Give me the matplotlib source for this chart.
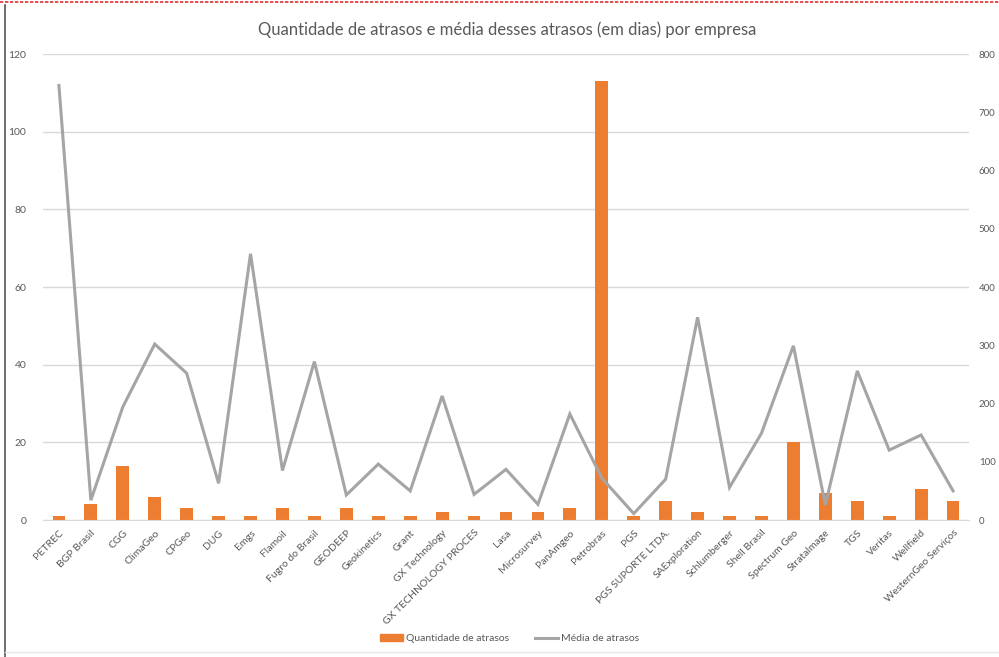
import matplotlib
matplotlib.use("Agg")
import matplotlib.pyplot as plt
from matplotlib.lines import Line2D
from matplotlib.patches import Patch
import numpy as np

plt.rcParams['font.family'] = ['Lato', 'DejaVu Sans']

empresas = ["PETREC", "BGP Brasil", "CGG", "ClimaGeo", "CPGeo", "DUG", "Emgs", "Flamoil",
            "Fugro do Brasil", "GEODEEP", "Geokinetics", "Grant", "GX Technology",
            "GX TECHNOLOGY PROCES", "Lasa", "Microsurvey", "PanAmgeo", "Petrobras", "PGS",
            "PGS SUPORTE LTDA.", "SAExploration", "Schlumberger", "Shell Brasil",
            "Spectrum Geo", "Stratalmage", "TGS", "Veritas", "Wellfield", "WesternGeo Serviços"]
qtd_atrasos = [1, 4, 14, 6, 3, 1, 1, 3, 1, 3, 1, 1, 2, 1, 2, 2, 3, 113, 1,
               5, 2, 1, 1, 20, 7, 5, 1, 8, 5]
media_atrasos = [746, 34, 194, 302, 252, 63, 457, 85, 272, 43, 96, 50, 213, 44, 87, 27,
                 182, 72, 11, 70, 348, 56, 149, 299, 26, 256, 120, 146, 50]
left_ticks = [0, 20, 40, 60, 80, 100, 120]
right_ticks = [0, 100, 200, 300, 400, 500, 600, 700, 800]

orange = "#ED7D31"
gray = "#A5A5A5"
txt = "#595959"
grid = "#D9D9D9"

fig = plt.figure(figsize=(9.99, 6.57), dpi=100)
ax = fig.add_axes([0.043, 0.2085, 0.927, 0.7093])
x = np.arange(len(empresas))

ax.bar(x, qtd_atrasos, width=0.4, color=orange, zorder=2)
ax.set_ylim(0, 120)
ax.set_yticks(left_ticks)
ax.set_xlim(-0.5, len(empresas) - 0.5)
ax.grid(axis='y', color=grid, linewidth=1, zorder=0)
ax.set_axisbelow(True)
for s in ax.spines.values():
    s.set_visible(False)
ax.spines['bottom'].set_visible(True)
ax.spines['bottom'].set_color(grid)
ax.tick_params(axis='both', length=0, colors=txt, labelsize=7.5)
ax.tick_params(axis='y', pad=12)
ax.set_xticks(x)
ax.set_xticklabels(empresas, rotation=45, ha='right', rotation_mode='anchor')
ax.tick_params(axis='x', pad=6)

ax2 = ax.twinx()
ax2.plot(x, media_atrasos, color=gray, linewidth=2.2, solid_joinstyle='miter', zorder=3)
ax2.set_ylim(0, 800)
ax2.set_yticks(right_ticks)
for s in ax2.spines.values():
    s.set_visible(False)
ax2.tick_params(axis='y', length=0, colors=txt, labelsize=7, pad=7)

fig.text(0.508, 0.955, "Quantidade de atrasos e média desses atrasos (em dias) por empresa",
         ha='center', va='center', fontsize=12, color=txt)

handles = [Patch(color=orange), Line2D([0], [0], color=gray, linewidth=2.2)]
fig.legend(handles, ["Quantidade de atrasos", "Média de atrasos"], loc='center',
           bbox_to_anchor=(0.51, 0.028), ncol=2, frameon=False, fontsize=7.5,
           labelcolor=txt, handlelength=2.2, handletextpad=0.3, columnspacing=2.5)

# outer chart frame
fig.add_artist(Line2D([0.005, 0.005], [0, 0.993], color="#555555", linewidth=1.2))
fig.add_artist(Line2D([0, 1], [0.997, 0.997], color="#E03030", linewidth=1.2, linestyle=(0, (2, 1))))
fig.add_artist(Line2D([0.005, 1], [0.008, 0.008], color="#E8E8E8", linewidth=1))

fig.savefig("out.png", dpi=100)
